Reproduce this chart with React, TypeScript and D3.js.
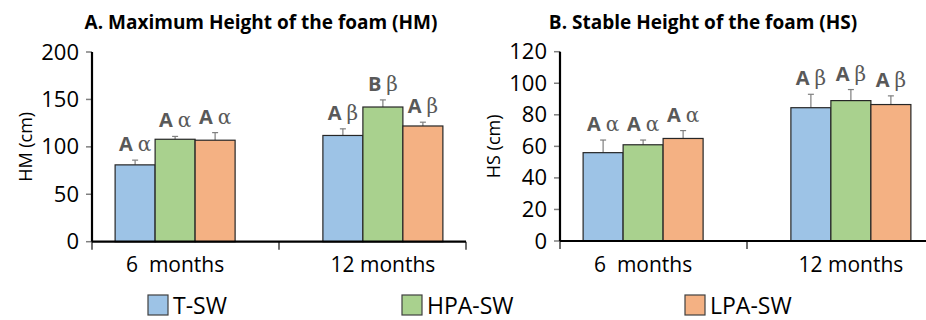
import React from "react";
import * as d3 from "d3";

const categories = ["6  months", "12 months"];
const series = ["T-SW", "HPA-SW", "LPA-SW"];
const colors = ["#9DC3E6", "#A9D18E", "#F4B183"];

// panel A: maximum height (HM)
const hmValues = [
  [81, 108, 107],
  [112, 142, 122],
];
const hmErrors = [
  [5, 3, 8],
  [7, 7.5, 4],
];
const hmLetters = [
  ["A α", "A α", "A α"],
  ["A β", "B β", "A β"],
];
const hmTicks = [0, 50, 100, 150, 200];

// panel B: stable height (HS)
const hsValues = [
  [56, 61, 65],
  [84.5, 89, 86.5],
];
const hsErrors = [
  [8, 3, 5],
  [8.5, 7, 5.5],
];
const hsLetters = [
  ["A α", "A α", "A α"],
  ["A β", "A β", "A β"],
];
const hsTicks = [0, 20, 40, 60, 80, 100, 120];

const FONT = "'Open Sans', 'Noto Sans', sans-serif";

type PanelProps = {
  title: string;
  titleX: number;
  yLabel: string;
  x0: number;
  yTop: number;
  yBottom: number;
  max: number;
  ticks: number[];
  values: number[][];
  errors: number[][];
  letters: string[][];
};

const Panel = ({ title, titleX, yLabel, x0, yTop, yBottom, max, ticks, values, errors, letters }: PanelProps) => {
  const x1 = x0 + 374;
  const y = d3.scaleLinear().domain([0, max]).range([yBottom, yTop]);
  const x = d3.scalePoint().domain(categories).range([x0, x1]).padding(0.4);
  const inner = d3.scaleBand().domain(series).range([-60, 60]);
  const mid = (x0 + x1) / 2;

  return (
    <g>
      <text x={titleX} y={29} textAnchor="middle" fontFamily={FONT} fontWeight="bold" fontSize={19} fill="#000">
        {title}
      </text>
      <text
        transform={`translate(${x0 - 60},${(yTop + yBottom) / 2}) rotate(-90)`}
        textAnchor="middle"
        fontFamily={FONT}
        fontSize={18}
        fill="#000"
      >
        {yLabel}
      </text>
      {ticks.map((t) => (
        <g key={t}>
          <line x1={x0 - 6} x2={x0} y1={y(t)} y2={y(t)} stroke="#7f7f7f" strokeWidth={1.5} />
          <text x={x0 - 13} y={y(t) + 7.5} textAnchor="end" fontFamily={FONT} fontSize={22} fill="#000">
            {t}
          </text>
        </g>
      ))}
      {categories.map((c, ci) => (
        <g key={c}>
          {series.map((s, si) => {
            const v = values[ci][si];
            const e = errors[ci][si];
            const bx = (x(c) as number) + (inner(s) as number);
            const bw = inner.bandwidth();
            const cx = bx + bw / 2;
            const [l1, l2] = letters[ci][si].split(" ");
            return (
              <g key={s}>
                <line x1={cx} x2={cx} y1={y(v)} y2={y(v + e)} stroke="#7f7f7f" strokeWidth={1.2} />
                <line x1={cx - 3} x2={cx + 3} y1={y(v + e)} y2={y(v + e)} stroke="#7f7f7f" strokeWidth={1.2} />
                <rect x={bx} y={y(v)} width={bw} height={y(0) - y(v)} fill={colors[si]} stroke="#262626" strokeWidth={1.2} />
                <text x={cx} y={y(v + e) - 9} textAnchor="middle" fontSize={20} fill="#595959">
                  <tspan fontFamily={FONT} fontWeight="bold">{l1}</tspan>
                  <tspan fontFamily="'DejaVu Serif', serif" dx={5}>{l2}</tspan>
                </text>
              </g>
            );
          })}
          <text x={x(c) as number} y={272} textAnchor="middle" fontFamily={FONT} fontSize={21} fill="#000" style={{ whiteSpace: "pre" }}>
            {c}
          </text>
        </g>
      ))}
      {[x0, mid, x1].map((t) => (
        <line key={t} x1={t} x2={t} y1={yBottom} y2={yBottom + 8} stroke="#404040" strokeWidth={1.5} />
      ))}
      <line x1={x0} x2={x0} y1={yTop} y2={yBottom} stroke="#000" strokeWidth={2.2} />
      <line x1={x0} x2={x1} y1={yBottom} y2={yBottom} stroke="#000" strokeWidth={2.2} />
    </g>
  );
};

const legendX = [148, 402, 685];

const App = () => {
  return (
    <svg width={926} height={320} style={{ position: "absolute", left: 0, top: 0, background: "#fff" }}>
      <Panel
        title="A. Maximum Height of the foam (HM)"
        titleX={261}
        yLabel="HM (cm)"
        x0={92}
        yTop={52}
        yBottom={241.7}
        max={200}
        ticks={hmTicks}
        values={hmValues}
        errors={hmErrors}
        letters={hmLetters}
      />
      <Panel
        title="B. Stable Height of the foam (HS)"
        titleX={703}
        yLabel="HS (cm)"
        x0={560}
        yTop={51.7}
        yBottom={241}
        max={120}
        ticks={hsTicks}
        values={hsValues}
        errors={hsErrors}
        letters={hsLetters}
      />
      {series.map((s, i) => (
        <g key={s}>
          <rect x={legendX[i]} y={295} width={20} height={20} fill={colors[i]} stroke="#404040" strokeWidth={1.2} />
          <text x={legendX[i] + 25} y={314} fontFamily={FONT} fontSize={23} fill="#000">
            {s}
          </text>
        </g>
      ))}
    </svg>
  );
};

export default App;
